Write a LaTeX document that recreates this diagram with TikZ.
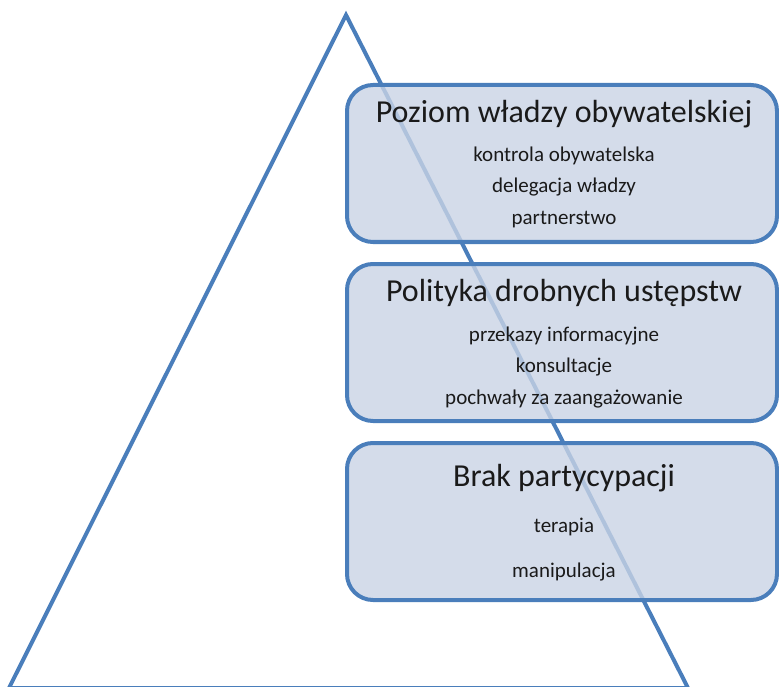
\documentclass[tikz,border=0pt]{standalone}
\usepackage{fontspec}
\setmainfont{Carlito}
\definecolor{lineblue}{HTML}{4A7EBB}
\definecolor{boxfill}{HTML}{C9D3E5}
\definecolor{txt}{HTML}{1A1A1A}
\begin{document}
\begin{tikzpicture}[x=1pt,y=-1pt,
  levelbox/.style={draw=lineblue, line width=4pt, fill=boxfill, fill opacity=0.8, draw opacity=1, rounded corners=26pt},
  titletext/.style={font=\fontsize{32}{38}\selectfont, text=txt, anchor=base, inner sep=0pt},
  itemtext/.style={font=\fontsize{21}{25}\selectfont, text=txt, anchor=base, inner sep=0pt}]
\clip (0,0) rectangle (779,687);
\useasboundingbox (0,0) rectangle (779,687);
% pyramid
\coordinate (apex) at (346,15);
\coordinate (bl) at (9,688);
\coordinate (br) at (688,688);
\draw[lineblue, line width=4pt, line join=miter] (apex) -- (br) -- (bl) -- cycle;
% boxes
\path[levelbox] (347,85) rectangle (777,242);
\path[levelbox] (347,264) rectangle (777,421);
\path[levelbox] (347,443) rectangle (777,600);
% texts box 1
\node[titletext] (t1) at (564,123) {Poziom władzy obywatelskiej};
\node[itemtext] (a1) at (564,162) {kontrola obywatelska};
\node[itemtext] (a2) at (564,193) {delegacja władzy};
\node[itemtext] (a3) at (564,225) {partnerstwo};
% texts box 2
\node[titletext] (t2) at (564,301) {Polityka drobnych ustępstw};
\node[itemtext] (b1) at (564,341) {przekazy informacyjne};
\node[itemtext] (b2) at (564,372) {konsultacje};
\node[itemtext] (b3) at (564,404) {pochwały za zaangażowanie};
% texts box 3
\node[titletext] (t3) at (564,486) {Brak partycypacji};
\node[itemtext] (c1) at (564,532) {terapia};
\node[itemtext] (c2) at (564,577) {manipulacja};
\end{tikzpicture}
\end{document}
